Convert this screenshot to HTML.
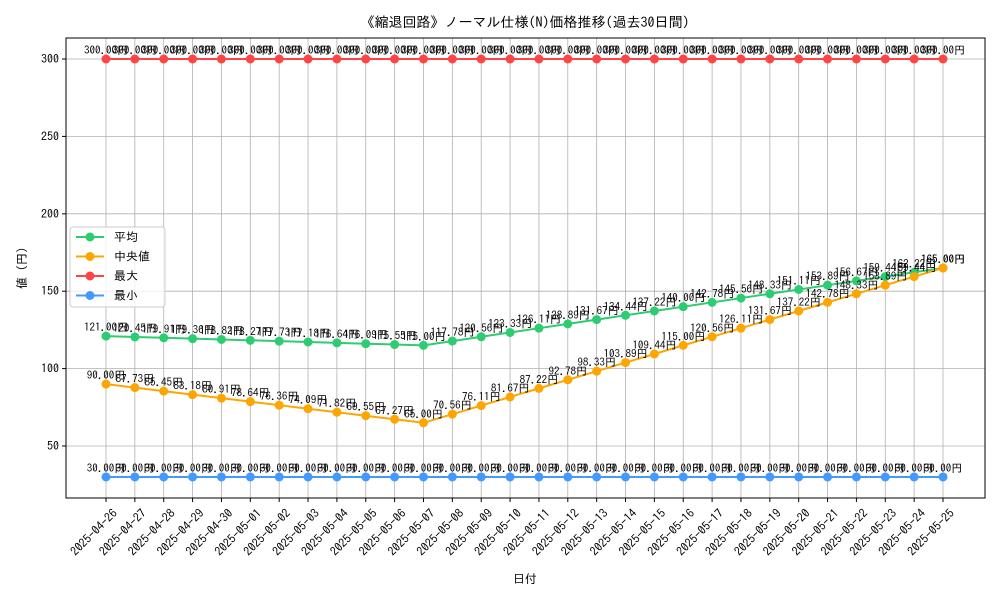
<!DOCTYPE html>
<html><head><meta charset="utf-8"><style>
body{margin:0;background:#fff;}
svg{display:block;font-family:"IPAGothic","Noto Sans CJK JP",sans-serif;}
</style></head><body>
<svg id="chart" width="1000" height="600"></svg>
<script>
const dates=["2025-04-26","2025-04-27","2025-04-28","2025-04-29","2025-04-30","2025-05-01","2025-05-02","2025-05-03","2025-05-04","2025-05-05","2025-05-06","2025-05-07","2025-05-08","2025-05-09","2025-05-10","2025-05-11","2025-05-12","2025-05-13","2025-05-14","2025-05-15","2025-05-16","2025-05-17","2025-05-18","2025-05-19","2025-05-20","2025-05-21","2025-05-22","2025-05-23","2025-05-24","2025-05-25"];
const avgValues=[121.00,120.45,119.91,119.36,118.82,118.27,117.73,117.18,116.64,116.09,115.55,115.00,117.78,120.56,123.33,126.11,128.89,131.67,134.44,137.22,140.00,142.78,145.56,148.33,151.11,153.89,156.67,159.44,162.22,165.00];
const medValues=[90.00,87.73,85.45,83.18,80.91,78.64,76.36,74.09,71.82,69.55,67.27,65.00,70.56,76.11,81.67,87.22,92.78,98.33,103.89,109.44,115.00,120.56,126.11,131.67,137.22,142.78,148.33,153.89,159.44,165.00];
const maxValues=[300,300,300,300,300,300,300,300,300,300,300,300,300,300,300,300,300,300,300,300,300,300,300,300,300,300,300,300,300,300];
const minValues=[30,30,30,30,30,30,30,30,30,30,30,30,30,30,30,30,30,30,30,30,30,30,30,30,30,30,30,30,30,30];
const yTicks=[50,100,150,200,250,300];
const seriesNames=["平均","中央値","最大","最小"];

const NS="http://www.w3.org/2000/svg";
const svg=document.getElementById('chart');
const L=66,R=985,T=38,B=498;
const xS=i=>106+i*(943-106)/(dates.length-1);
const yS=v=>59+(300-v)*(446-59)/250;
function mk(tag,attrs,parent){const e=document.createElementNS(NS,tag);for(const k in attrs)e.setAttribute(k,attrs[k]);(parent||svg).appendChild(e);return e;}

dates.forEach((d,i)=>{const g=mk('line',{x1:xS(i),x2:xS(i),y1:T,y2:B,stroke:'#b0b0b0','stroke-width':0.8});

});
yTicks.forEach(v=>{const g=mk('line',{x1:L,x2:R,y1:yS(v),y2:yS(v),stroke:'#b0b0b0','stroke-width':0.8});


const t=mk('text',{x:L-7,y:yS(v)+4,'text-anchor':'end','font-size':12});t.textContent=v;


mk('line',{x1:L-4,x2:L,y1:yS(v),y2:yS(v),stroke:'#000'});});
dates.forEach((d,i)=>{mk('line',{x1:xS(i),x2:xS(i),y1:B,y2:B+4,stroke:'#000'});
const ax=xS(i)+12,ay=B+16;
const t=mk('text',{x:ax,y:ay,'text-anchor':'end','font-size':12,transform:`rotate(-45 ${ax} ${ay})`});t.textContent=d;

});
const frame=mk('rect',{x:L,y:T,width:R-L,height:B-T,fill:'none',stroke:'#000','stroke-width':1});



const series=[[avgValues,'#2ecc71'],[medValues,'#ffa500'],[maxValues,'#ff4444'],[minValues,'#4499ff']];
series.forEach(([vals,c],si)=>{
 const p=mk('polyline',{points:vals.map((v,i)=>xS(i)+','+yS(v)).join(' '),fill:'none',stroke:c,'stroke-width':2});
 
 
 vals.forEach((v,i)=>{const m=mk('circle',{cx:xS(i),cy:yS(v),r:4.5,fill:c});
 
 
 const t=mk('text',{x:xS(i),y:yS(v)-5,'text-anchor':'middle','font-size':11});t.textContent=v.toFixed(2)+'円';
 
 });
});

const lg=mk('g',{});


mk('rect',{x:70,y:227,width:95,height:80,fill:'#fff','fill-opacity':0.8,stroke:'#ccc',rx:3},lg);
series.forEach(([v,c],si)=>{const y=237+si*19.5;
 mk('line',{x1:76,x2:104,y1:y,y2:y,stroke:c,'stroke-width':2},lg);
 mk('circle',{cx:90,cy:y,r:4.5,fill:c},lg);
 const t=mk('text',{x:114,y:y+4,'font-size':12},lg);t.textContent=seriesNames[si];
 
 });

const title=mk('text',{x:525,y:27,'text-anchor':'middle','font-size':14});title.textContent='《縮退回路》ノーマル仕様(N)価格推移(過去30日間)';


const xt=mk('text',{x:525,y:583,'text-anchor':'middle','font-size':12});xt.textContent='日付';


const yt=mk('text',{x:26,y:268,'text-anchor':'middle','font-size':12,transform:'rotate(-90 26 268)'});yt.textContent='値 (円)';


</script>
</body></html>
